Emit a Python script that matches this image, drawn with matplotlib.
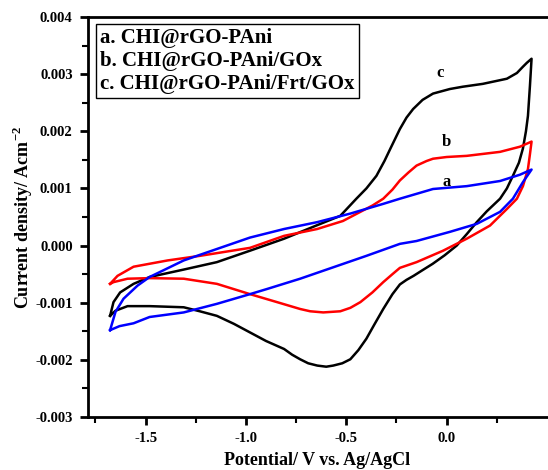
import numpy as np
import matplotlib
matplotlib.use('Agg')
import matplotlib.pyplot as plt
from matplotlib.ticker import FormatStrFormatter, MultipleLocator, FixedLocator

plt.rcParams['font.family'] = 'Liberation Serif'
plt.rcParams['font.weight'] = 'bold'
plt.rcParams['mathtext.fontset'] = 'custom'
plt.rcParams['mathtext.rm'] = 'Liberation Serif:bold'
plt.rcParams['mathtext.bf'] = 'Liberation Serif:bold'

# curve a: CHI@rGO-PAni (blue), current in mA/cm2
pot_a = [-1.677, -1.65, -1.61, -1.54, -1.48, -1.31, -1.145, -0.98, -0.81, -0.645, -0.48, -0.316,
         -0.233, -0.068, 0.1, 0.266, 0.365, 0.423, 0.38, 0.33, 0.266, 0.15, 0.016, -0.15, -0.233,
         -0.40, -0.565, -0.73, -0.895, -0.98, -1.145, -1.31, -1.48, -1.56, -1.63, -1.677]
cur_a = [-1.48, -1.16, -0.93, -0.70, -0.55, -0.26, -0.06, 0.14, 0.29, 0.41, 0.56, 0.73,
         0.82, 0.99, 1.04, 1.13, 1.24, 1.33, 1.11, 0.82, 0.59, 0.38, 0.24, 0.08, 0.03,
         -0.18, -0.38, -0.58, -0.76, -0.85, -1.02, -1.17, -1.25, -1.36, -1.41, -1.48]

# curve b: CHI@rGO-PAni/GOx (red)
pot_b = [-1.677, -1.64, -1.56, -1.39, -1.23, -0.98, -0.81, -0.645, -0.517, -0.43, -0.37, -0.316,
         -0.27, -0.233, -0.19, -0.15, -0.1, -0.068, 0.0, 0.1, 0.266, 0.365, 0.423, 0.415, 0.405,
         0.38, 0.35, 0.30, 0.216, 0.1, -0.018, -0.15, -0.233, -0.27, -0.316, -0.37, -0.43, -0.48,
         -0.53, -0.615, -0.68, -0.73, -0.845, -0.98, -1.145, -1.31, -1.48, -1.59, -1.66, -1.677]
cur_b = [-0.67, -0.53, -0.37, -0.26, -0.18, -0.04, 0.17, 0.29, 0.43, 0.59, 0.70, 0.82,
         0.98, 1.14, 1.28, 1.40, 1.48, 1.52, 1.55, 1.57, 1.64, 1.73, 1.82, 1.60, 1.34,
         1.04, 0.82, 0.64, 0.35, 0.12, -0.09, -0.29, -0.39, -0.50, -0.64, -0.82, -0.99, -1.09,
         -1.15, -1.17, -1.15, -1.11, -0.99, -0.85, -0.67, -0.58, -0.57, -0.58, -0.64, -0.67]

# curve c: CHI@rGO-PAni/Frt/GOx (black)
pot_c = [-1.677, -1.66, -1.627, -1.56, -1.48, -1.31, -1.145, -0.98, -0.81, -0.65, -0.53, -0.45,
         -0.40, -0.35, -0.31, -0.28, -0.233, -0.2, -0.167, -0.12, -0.068, 0.016, 0.08, 0.18, 0.30,
         0.35, 0.38, 0.40, 0.423, 0.415, 0.405, 0.395, 0.38, 0.36, 0.33, 0.30, 0.266, 0.2, 0.15,
         0.1, 0.05, -0.01, -0.07, -0.12, -0.165, -0.2, -0.233, -0.27, -0.316, -0.36, -0.40, -0.44,
         -0.48, -0.52, -0.565, -0.6, -0.645, -0.69, -0.73, -0.77, -0.81, -0.9, -0.98, -1.06,
         -1.145, -1.23, -1.31, -1.48, -1.59, -1.65, -1.677]
cur_c = [-1.23, -0.99, -0.82, -0.67, -0.55, -0.42, -0.29, -0.09, 0.12, 0.35, 0.52, 0.82,
         1.00, 1.22, 1.48, 1.70, 2.04, 2.24, 2.39, 2.55, 2.66, 2.74, 2.78, 2.83, 2.92,
         3.02, 3.13, 3.20, 3.27, 2.80, 2.27, 2.00, 1.70, 1.45, 1.22, 1.00, 0.82, 0.60, 0.41,
         0.20, 0.0, -0.17, -0.32, -0.43, -0.53, -0.60, -0.68, -0.85, -1.11, -1.38, -1.63, -1.83,
         -1.99, -2.06, -2.10, -2.12, -2.10, -2.06, -1.99, -1.91, -1.81, -1.67, -1.52, -1.37,
         -1.23, -1.15, -1.08, -1.06, -1.06, -1.14, -1.23]

legend_lines = ['a. CHI@rGO-PAni', 'b. CHI@rGO-PAni/GOx', 'c. CHI@rGO-PAni/Frt/GOx']

fig = plt.figure(figsize=(5.48, 4.70), dpi=100)
ax = fig.add_axes([0.1606, 0.1128, 0.8376, 0.851])

ax.plot(pot_c, np.array(cur_c) * 1e-3, color='black', lw=1.8)
ax.plot(pot_b, np.array(cur_b) * 1e-3, color='#ff0000', lw=1.8)
ax.plot(pot_a, np.array(cur_a) * 1e-3, color='#0000ff', lw=1.8)

ax.text(-0.033, 0.00302, 'c', fontsize=12, fontweight='bold', ha='center', va='center')
ax.text(0.0, 0.00182, 'b', fontsize=12, fontweight='bold', ha='center', va='center')
ax.text(0.0, 0.00112, 'a', fontsize=12, fontweight='bold', ha='center', va='center')

ax.text(-1.727, 0.00381, '\n'.join(legend_lines), fontsize=15, fontweight='bold',
        ha='left', va='top', linespacing=1.2,
        bbox=dict(boxstyle='square,pad=0.2', fc='white', ec='black', lw=1.0))

ax.set_xlim(-1.787, 0.5)
ax.set_ylim(-0.003, 0.004)
ax.xaxis.set_major_locator(FixedLocator([-1.5, -1.0, -0.5, 0.0]))
ax.xaxis.set_minor_locator(FixedLocator([-1.75, -1.25, -0.75, -0.25, 0.25]))
ax.yaxis.set_major_locator(MultipleLocator(0.001))
ax.yaxis.set_minor_locator(MultipleLocator(0.0005))
ax.xaxis.set_major_formatter(FormatStrFormatter('%.1f'))
ax.yaxis.set_major_formatter(FormatStrFormatter('%.3f'))

ax.spines['right'].set_visible(False)
for s in ['left', 'bottom', 'top']:
    ax.spines[s].set_linewidth(2.0)
ax.tick_params(which='major', direction='out', length=6, width=2, labelsize=10.5, pad=5)
ax.tick_params(which='minor', direction='out', length=4, width=1.5)
ax.tick_params(top=False, right=False)

ax.set_xlabel('Potential/ V vs. Ag/AgCl', fontsize=13, fontweight='bold', labelpad=5)
ax.set_ylabel(r'Current density/ Acm$^{-2}$', fontsize=13, fontweight='bold', labelpad=0)

fig.savefig('out.png', dpi=100)
